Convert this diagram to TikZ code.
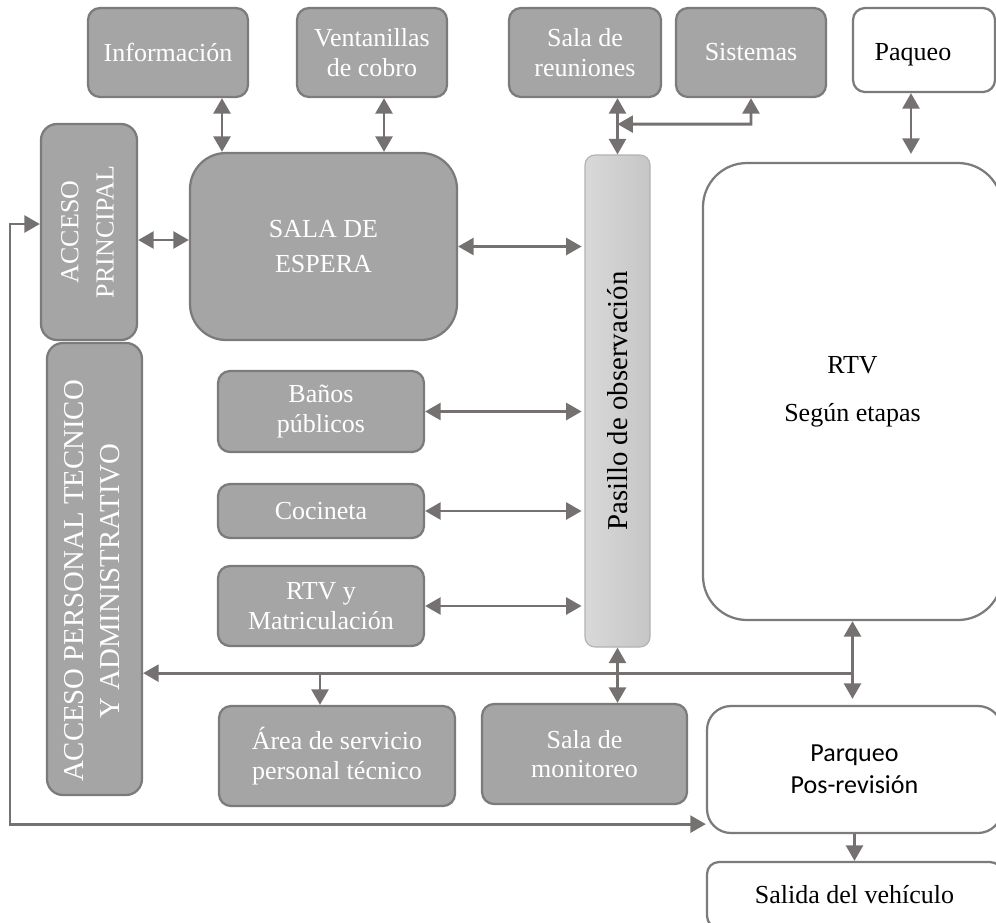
\documentclass[tikz,border=0pt]{standalone}
\usepackage{fontspec}
\setmainfont{Liberation Serif}
\newfontfamily\serifa{Liberation Serif}
\newfontfamily\carlito{Carlito}
\usetikzlibrary{arrows.meta}

\definecolor{boxgray}{HTML}{A5A5A5}
\definecolor{edgegray}{HTML}{7B7B7B}
\definecolor{arrowgray}{HTML}{767171}

\tikzset{
  grisbox/.style={draw=edgegray, line width=1.6pt, fill=boxgray, text=white,
    rounded corners=0.3cm, align=center, inner sep=0pt,
    font=\serifa\fontsize{18.5pt}{21pt}\selectfont},
  blancobox/.style={grisbox, fill=white, text=black},
  flecha/.style={draw=arrowgray, line width=2pt, -{Triangle[length=11pt,width=12pt]}},
  dflecha/.style={flecha, {Triangle[length=11pt,width=12pt]}-{Triangle[length=11pt,width=12pt]}}
}

\begin{document}
\begin{tikzpicture}
  \useasboundingbox (0,0) rectangle (24.9,-23.05);
  \clip (0,0) rectangle (24.9,-23.05);

  % Top row
  \node[grisbox, minimum width=4cm, minimum height=2.225cm] (info) at (4.2,-1.3125) {Información};
  \node[grisbox, minimum width=3.75cm, minimum height=2.225cm] (vent) at (9.3,-1.3125) {Ventanillas\\de cobro};
  \node[grisbox, minimum width=3.8cm, minimum height=2.225cm] (reun) at (14.625,-1.3125) {Sala de\\reuniones};
  \node[grisbox, minimum width=3.75cm, minimum height=2.225cm] (sist) at (18.775,-1.3125) {Sistemas};
  \node[blancobox, minimum width=3.55cm, minimum height=2.1cm, text height=15pt, text depth=0pt] (paq) at (23.1,-1.25)
    {Paqueo\hspace*{0.55cm}};

  % Accesos and waiting room
  \node[grisbox, minimum width=2.4cm, minimum height=5.4cm, rounded corners=0.4cm,
    font=\serifa\fontsize{18.5pt}{25pt}\selectfont] (accp) at (2.225,-5.8)
    {\rotatebox{90}{\begin{tabular}{@{}c@{}}ACCESO\\PRINCIPAL\end{tabular}}};
  \node[grisbox, minimum width=6.675cm, minimum height=4.675cm, rounded corners=0.9cm,
    font=\serifa\fontsize{18.5pt}{25pt}\selectfont] (espera) at (8.0875,-6.1625) {SALA DE\\ESPERA};
  \node[grisbox, minimum width=2.375cm, minimum height=11.3cm, rounded corners=0.4cm,
    font=\serifa\fontsize{20.5pt}{25pt}\selectfont] (accpt) at (2.3625,-14.225)
    {\rotatebox{90}{\begin{tabular}{@{}c@{}}ACCESO PERSONAL TECNICO\\Y ADMINISTRATIVO\end{tabular}\hspace*{0.6cm}}};

  % Corridor
  \node[draw=gray!60, line width=0.8pt, left color=gray!30, right color=gray!45,
    rounded corners=0.25cm, minimum width=1.625cm, minimum height=12.3cm, inner sep=0pt,
    font=\serifa\fontsize{20.5pt}{24pt}\selectfont] (pas) at (15.4375,-10.025)
    {\rotatebox{90}{Pasillo de observación}};

  % Services
  \node[grisbox, minimum width=5.15cm, minimum height=2.025cm] (banos) at (8.025,-10.2875) {Baños\\públicos};
  \node[grisbox, minimum width=5.15cm, minimum height=1.35cm] (coc) at (8.025,-12.775) {Cocineta};
  \node[grisbox, minimum width=5.15cm, minimum height=2cm] (matr) at (8.025,-15.15) {RTV y\\Matriculación};
  \node[grisbox, minimum width=5.9cm, minimum height=2.5cm] (area) at (8.425,-18.9) {Área de servicio\\personal técnico};
  \node[grisbox, minimum width=5.125cm, minimum height=2.5cm] (mon) at (14.6125,-18.85) {Sala de\\monitoreo};

  % Right column
  \node[blancobox, minimum width=7.475cm, minimum height=11.425cm, rounded corners=1.1cm] (rtv) at (21.3125,-9.7875)
    {RTV\\[13pt]Según etapas};
  \node[blancobox, minimum width=7.375cm, minimum height=3.175cm, rounded corners=0.6cm,
    font=\carlito\fontsize{18.5pt}{23pt}\selectfont] (parq) at (21.3625,-19.2375) {Parqueo\\Pos-revisión};
  \node[blancobox, minimum width=7.375cm, minimum height=1.65cm] (sal) at (21.3625,-22.375) {Salida del vehículo};

  % Top connectors
  \draw[dflecha] ([xshift=1.35cm]info.south) -- ([xshift=1.35cm]info.south |- espera.north);
  \draw[dflecha] ([xshift=0.3cm]vent.south) -- ([xshift=0.3cm]vent.south |- espera.north);
  \draw[dflecha] (pas.north |- reun.south) -- (pas.north);
  \draw[dflecha] (sist.south) -- ++(0,-0.65) -- ([yshift=-0.65cm]sist.south -| pas.north);
  \draw[dflecha] ([xshift=-0.325cm]paq.south) -- ([xshift=-0.325cm,yshift=0.2cm]paq.south |- rtv.north);

  % Connectors to the corridor
  \draw[dflecha] ([yshift=-0.2cm]accp.east) -- ([yshift=-0.2cm]accp.east -| espera.west);
  \draw[dflecha] (espera.east) -- ([xshift=-2pt]espera.east -| pas.west);
  \foreach \n in {banos, coc, matr}
    \draw[dflecha] (\n.east) -- ([xshift=-2pt]\n.east -| pas.west);
  \draw[dflecha] (pas.south) -- (pas.south |- mon.north);

  % Bottom line
  \coordinate (bus) at ([yshift=-1.3cm]rtv.south);
  \coordinate (lft) at (0.25,-5.6);
  \draw[flecha] (bus) -- (bus -| accpt.east);
  \draw[flecha] (bus) -- (rtv.south);
  \draw[flecha] (bus) -- ([yshift=0.15cm]bus |- parq.north);
  \draw[flecha] ([xshift=-0.425cm]bus -| area.north) -- ([xshift=-0.425cm]area.north);
  \draw[dflecha] ([yshift=0.25cm]parq.south west) -| (lft) -- (lft -| accp.west);
  \draw[flecha] (parq.south) -- (sal.north);
\end{tikzpicture}
\end{document}
